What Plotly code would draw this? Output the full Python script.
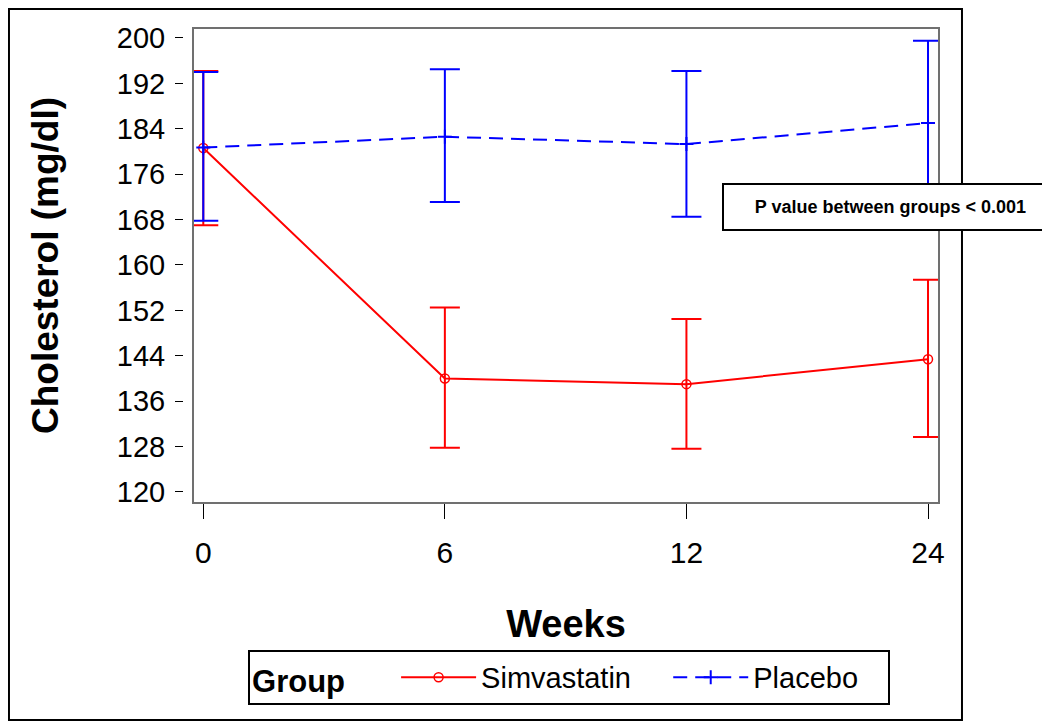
import plotly.graph_objects as go

weeks = ["0", "6", "12", "24"]

simva_mean = [180.6, 140.0, 139.0, 143.4]
simva_upper = [194.2, 152.5, 150.5, 157.4]
simva_lower = [167.0, 127.8, 127.6, 129.7]

placebo_mean = [180.7, 182.6, 181.3, 185.0]
placebo_upper = [194.0, 194.5, 194.2, 199.5]
placebo_lower = [167.8, 171.1, 168.5, 170.5]

y_ticks = [120, 128, 136, 144, 152, 160, 168, 176, 184, 192, 200]

FONT = "Liberation Sans, Arial, sans-serif"
NB = "&nbsp;"

fig = go.Figure()

fig.add_trace(go.Scatter(
    x=weeks, y=simva_mean, name="Simvastatin" + NB * 4, mode="lines+markers",
    line=dict(color="#ff0000", width=2),
    marker=dict(symbol="circle-open", size=9, color="#ff0000", line=dict(width=1.5)),
    error_y=dict(type="data", symmetric=False,
                 array=[u - m for u, m in zip(simva_upper, simva_mean)],
                 arrayminus=[m - l for l, m in zip(simva_lower, simva_mean)],
                 color="#ff0000", thickness=2, width=15),
))

fig.add_trace(go.Scatter(
    x=weeks, y=placebo_mean, name="Placebo" + NB * 3, mode="lines+markers",
    line=dict(color="#0000ff", width=2, dash="14px,8px"),
    marker=dict(symbol="cross-thin-open", size=10, color="#0000ff", line=dict(width=2, color="#0000ff")),
    error_y=dict(type="data", symmetric=False,
                 array=[u - m for u, m in zip(placebo_upper, placebo_mean)],
                 arrayminus=[m - l for l, m in zip(placebo_lower, placebo_mean)],
                 color="#0000ff", thickness=2, width=15),
))

fig.update_layout(
    width=1042, height=714,
    margin=dict(l=175, r=111, t=20, b=219, autoexpand=False),
    paper_bgcolor="white", plot_bgcolor="white",
    font=dict(family=FONT, color="black"),
    xaxis=dict(
        type="category", categoryorder="array", categoryarray=weeks,
        domain=[0.01323, 1], range=[-0.0426, 3.0455], automargin=False,
        showline=False, showgrid=False, zeroline=False,
        ticks="outside", ticklen=15, tickwidth=1, tickcolor="black",
        tickfont=dict(size=30, family=FONT), ticklabelstandoff=8,
        title=dict(text="<b>Weeks</b>", font=dict(size=38, family=FONT), standoff=42),
    ),
    yaxis=dict(
        anchor="free", position=0, automargin=False,
        range=[118.06, 201.76],
        tickvals=y_ticks, ticktext=[str(v) for v in y_ticks],
        showline=False, showgrid=False, zeroline=False,
        ticks="outside", ticklen=8, tickwidth=1, tickcolor="black",
        tickfont=dict(size=29, family=FONT), ticklabelstandoff=4,
        title=dict(text="<b>Cholesterol (mg/dl)</b>", font=dict(size=37, family=FONT), standoff=45),
    ),
    showlegend=True,
    legend=dict(
        orientation="h", x=0.086, xanchor="left", y=-0.367, yanchor="middle",
        bordercolor="black", borderwidth=2, bgcolor="white",
        font=dict(size=29, family=FONT), itemwidth=75,
        title=dict(text="<b>Group</b>" + NB * 5, font=dict(size=31, family=FONT), side="left"),
    ),
)

# plot wall frame
fig.add_shape(type="rect", xref="x domain", yref="y domain", x0=0, x1=1, y0=0, y1=1,
              line=dict(color="#707070", width=2), fillcolor="rgba(0,0,0,0)", layer="above")
# outer border
fig.add_shape(type="rect", xref="paper", yref="paper", x0=-0.2302, x1=1.0304, y0=-0.4568, y1=1.04,
              line=dict(color="black", width=2), fillcolor="rgba(0,0,0,0)", layer="below")

fig.add_annotation(
    xref="paper", yref="paper", x=0.936, y=0.623, xanchor="center", yanchor="middle",
    text="<b>P value between groups < 0.001</b>", showarrow=False,
    font=dict(size=18, family=FONT, color="black"),
    bgcolor="white", bordercolor="black", borderwidth=2, borderpad=2,
    width=329, height=40,
)

fig.write_html("out.html")
